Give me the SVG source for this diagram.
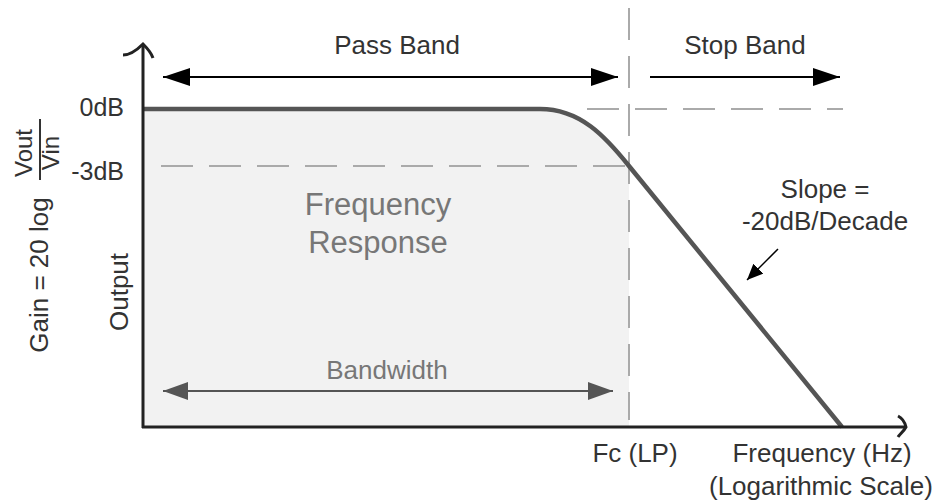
<svg xmlns="http://www.w3.org/2000/svg" width="939" height="504" viewBox="0 0 939 504">
<style>
text{font-family:"Liberation Sans",Arial,sans-serif;fill:#333;font-size:26px}
.mid{text-anchor:middle}
.end{text-anchor:end}
.gray{fill:#777}
.big{font-size:31px}
.db{font-size:25px}
.frac{font-size:24px}
.dash{stroke:#aaa;stroke-width:2;stroke-dasharray:32 16;fill:none}
.axis{stroke:#222;stroke-width:3;fill:none}
</style>
<defs>
<marker id="ah" viewBox="0 0 27 18" refX="27" refY="9" markerWidth="27" markerHeight="18" markerUnits="userSpaceOnUse" orient="auto-start-reverse">
<path d="M0,0 L27,9 L0,18 Z" fill="#000"/>
</marker>
<marker id="ahg" viewBox="0 0 25 18" refX="25" refY="9" markerWidth="25" markerHeight="18" markerUnits="userSpaceOnUse" orient="auto-start-reverse">
<path d="M0,0 L25,9 L0,18 Z" fill="#555"/>
</marker>
<marker id="ahs" viewBox="0 0 16 14" refX="16" refY="7" markerWidth="16" markerHeight="14" markerUnits="userSpaceOnUse" orient="auto">
<path d="M0,0 L16,7 L0,14 Z" fill="#000"/>
</marker>
</defs>
<rect width="939" height="504" fill="#fff"/>
<g id="response-area">
<path d="M143,109 L540,109 C580,109 605,136 629,166 L629,427 L143,427 Z" fill="#f2f2f2"/>
</g>
<g id="guides">
<line class="dash" x1="629" y1="8" x2="629" y2="420"/>
<line class="dash" x1="629" y1="166" x2="150" y2="166" stroke-dashoffset="-4"/>
<line class="dash" x1="587" y1="109" x2="843" y2="109"/>
</g>
<g id="curve">
<path d="M143,109 L540,109 C580,109 605,136 629,166 L842,427" fill="none" stroke="#555" stroke-width="4.5"/>
</g>
<g id="axes">
<line class="axis" x1="143" y1="45" x2="143" y2="428"/>
<line class="axis" x1="142" y1="427" x2="905" y2="427"/>
<path class="axis" d="M123,55 C131,55 137,50 143,44 C147,48 151,52 153,58"/>
<path class="axis" d="M898,416 C902,418 905,423 906,427 C904,431 900,434 898,437"/>
</g>
<g id="connectors">
<line x1="163" y1="77" x2="618" y2="77" stroke="#000" stroke-width="2" marker-start="url(#ah)" marker-end="url(#ah)"/>
<line x1="650" y1="77" x2="840" y2="77" stroke="#000" stroke-width="2" marker-end="url(#ah)"/>
<line x1="163" y1="391" x2="613" y2="391" stroke="#555" stroke-width="2" marker-start="url(#ahg)" marker-end="url(#ahg)"/>
<line x1="778" y1="249" x2="747" y2="280" stroke="#000" stroke-width="1.5" marker-end="url(#ahs)"/>
</g>
<g id="labels">
<text class="mid" x="397" y="54">Pass Band</text>
<text class="mid" x="745" y="54">Stop Band</text>
<text class="end db" x="124" y="116">0dB</text>
<text class="end db" x="124" y="180">-3dB</text>
<text class="mid gray big" x="378" y="215">Frequency</text>
<text class="mid gray big" x="378" y="253">Response</text>
<text class="mid gray" x="387" y="379">Bandwidth</text>
<text class="mid" x="825" y="198">Slope =</text>
<text class="mid" x="825" y="230">-20dB/Decade</text>
<text class="mid" x="635" y="462">Fc (LP)</text>
<text class="mid" x="822" y="462">Frequency (Hz)</text>
<text class="mid" x="821" y="495">(Logarithmic Scale)</text>
<text class="mid" transform="translate(128,292) rotate(-90)">Output</text>
<text class="mid" transform="translate(48,275) rotate(-90)">Gain = 20 log</text>
<text class="mid frac" transform="translate(32,153) rotate(-90)">Vout</text>
<text class="mid frac" transform="translate(59,153) rotate(-90)">Vin</text>
<line x1="40" y1="119" x2="40" y2="180" stroke="#333" stroke-width="2"/>
</g>
</svg>
